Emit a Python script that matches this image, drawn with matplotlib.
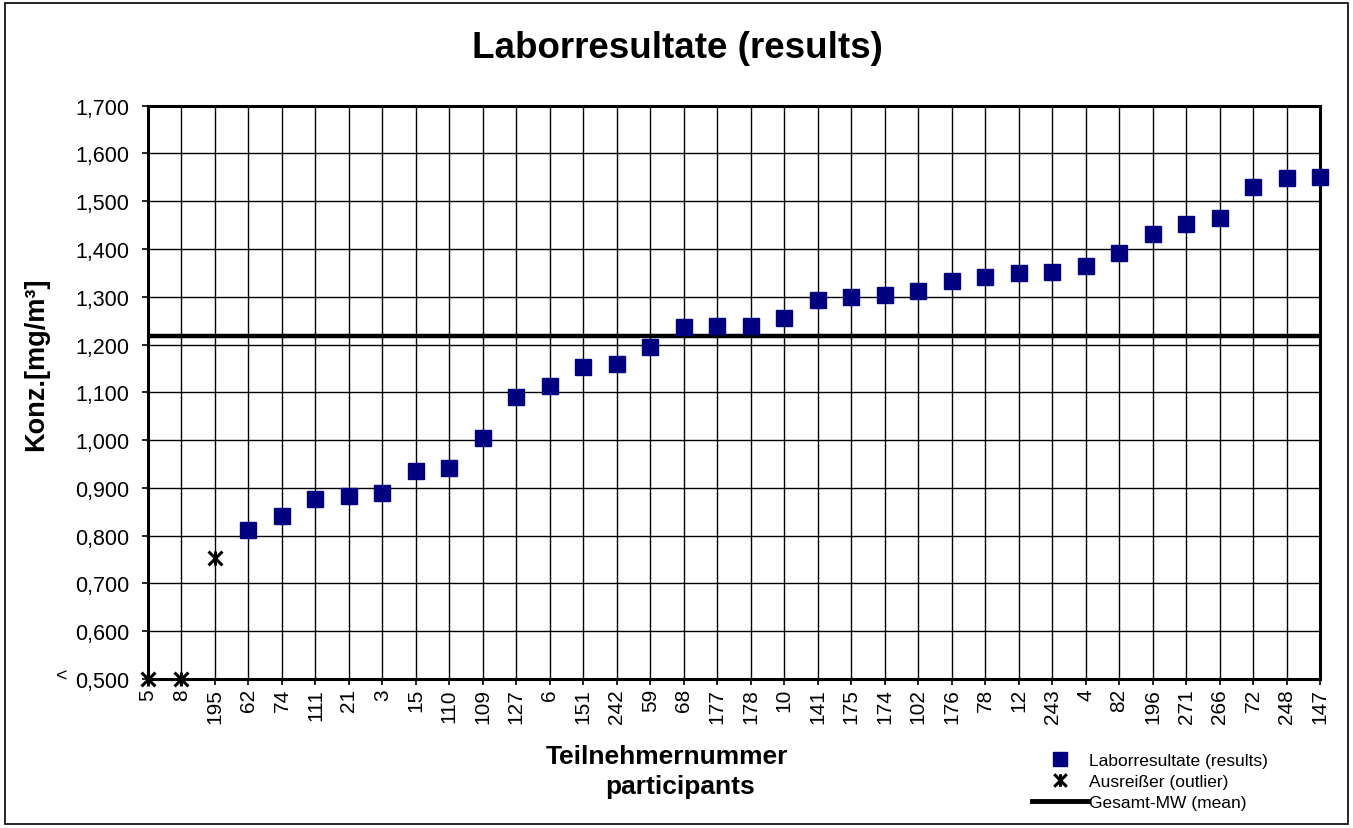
import matplotlib
matplotlib.use("Agg")
import matplotlib.pyplot as plt
from matplotlib.path import Path
from matplotlib.lines import Line2D
from matplotlib.patches import Rectangle

plt.rcParams['font.family'] = ['Liberation Sans', 'DejaVu Sans']

participants = ['5', '8', '195', '62', '74', '111', '21', '3', '15', '110', '109', '127',
                '6', '151', '242', '59', '68', '177', '178', '10', '141', '175', '174',
                '102', '176', '78', '12', '243', '4', '82', '196', '271', '266', '72',
                '248', '147']
results = [None, None, None, 0.812, 0.841, 0.877, 0.883, 0.889, 0.935, 0.941, 1.004,
           1.090, 1.113, 1.153, 1.159, 1.195, 1.236, 1.238, 1.238, 1.255, 1.293, 1.299,
           1.303, 1.312, 1.333, 1.341, 1.349, 1.351, 1.364, 1.391, 1.431, 1.452, 1.464,
           1.529, 1.548, 1.550]
outlier_labels = ['5', '8', '195']
outlier_values = [0.500, 0.500, 0.753]
mean_value = 1.218
y_ticks = [0.5, 0.6, 0.7, 0.8, 0.9, 1.0, 1.1, 1.2, 1.3, 1.4, 1.5, 1.6, 1.7]

star = Path([(-1, -1), (1, 1), (-1, 1), (1, -1), (0, -1), (0, 1)],
            [Path.MOVETO, Path.LINETO, Path.MOVETO, Path.LINETO, Path.MOVETO, Path.LINETO])

W, H = 1353, 829
fig = plt.figure(figsize=(W / 100, H / 100), dpi=100)
ax = fig.add_axes([148 / W, 1 - 680 / H, (1320 - 148) / W, (680 - 106.7) / H])

xpos = list(range(len(participants)))
rx = [x for x, v in zip(xpos, results) if v is not None]
ry = [v for v in results if v is not None]
ox = [participants.index(p) for p in outlier_labels]

ax.set_xlim(0, len(participants) - 1)
ax.set_ylim(0.5, 1.7)
ax.set_xticks(xpos)
ax.set_xticklabels(participants, rotation=90, fontsize=15)
ax.set_yticks(y_ticks)
ax.set_yticklabels([f"{v:.3f}".replace('.', ',') for v in y_ticks], fontsize=15.5)
ax.grid(True, color='black', linewidth=1.0)
ax.set_axisbelow(True)
for s in ax.spines.values():
    s.set_linewidth(2.2)
ax.tick_params(axis='both', direction='out', length=4.5, width=1.2)
ax.tick_params(axis='y', pad=9)
ax.tick_params(axis='x', pad=2)

ax.axhline(mean_value, color='black', linewidth=3.2, zorder=3)
ax.plot(rx, ry, linestyle='none', marker='s', markersize=11.5, color='#000080',
        markeredgecolor='#000080', zorder=4, clip_on=False)
ax.plot(ox, outlier_values, linestyle='none', marker=star, markersize=10,
        markeredgewidth=2.2, color='black', zorder=5, clip_on=False)

fig.text(62 / W, 1 - 677 / H, '<', ha='center', va='center', fontsize=14)

ax.set_ylabel('Konz.[mg/m³]', fontsize=19.5, fontweight='bold')
ax.yaxis.set_label_coords((49 - 148) / 1172, (680 - 364) / 573.3)
fig.text(677 / W, 1 - 49 / H, 'Laborresultate (results)', ha='center', va='center',
         fontsize=26.5, fontweight='bold')
fig.text(667 / W, 1 - 757 / H, 'Teilnehmernummer', ha='center', va='center',
         fontsize=19, fontweight='bold')
fig.text(680 / W, 1 - 787 / H, 'participants', ha='center', va='center',
         fontsize=19, fontweight='bold')

handles = [
    Line2D([], [], linestyle='none', marker='s', markersize=10, color='#000080'),
    Line2D([], [], linestyle='none', marker=star, markersize=9, markeredgewidth=2.2,
           color='black'),
    Line2D([], [], color='black', linewidth=3.5),
]
labels = ['Laborresultate (results)', 'Ausreißer (outlier)', 'Gesamt-MW (mean)']
fig.legend(handles, labels, loc='upper left', bbox_to_anchor=(1032 / W, 1 - 754 / H),
           frameon=False, fontsize=12.5, handlelength=3.2, handletextpad=0.1,
           labelspacing=0.33, borderaxespad=0, borderpad=0)

fig.patches.append(Rectangle((5 / W, 4 / H), (1348 - 5) / W, (825 - 4) / H,
                             transform=fig.transFigure, fill=False,
                             edgecolor='black', linewidth=1.2))

fig.savefig('out.png', dpi=100)
